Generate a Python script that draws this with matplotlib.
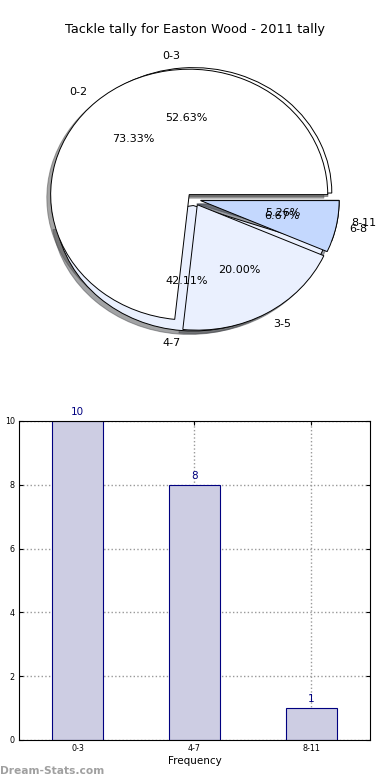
import matplotlib
matplotlib.use('Agg')
import matplotlib.pyplot as plt

# data
pie_a_labels = ['0-3', '4-7', '8-11']
pie_a_vals = [10, 8, 1]
pie_b_labels = ['0-2', '3-5', '6-8']
pie_b_vals = [11, 3, 1]

bar_labels = ['0-3', '4-7', '8-11']
bar_vals = [10, 8, 1]

wedge_colors = ['#ffffff', '#eaf0fe', '#c4d8fe']
bar_face = '#cdcde3'
navy = '#000080'

fig = plt.figure(figsize=(3.9, 7.8), dpi=100)

# ---- pie part ----
ax1 = fig.add_axes([0.053, 0.5435, 0.888, 0.402])
for vals, labs in [(pie_a_vals, pie_a_labels), (pie_b_vals, pie_b_labels)]:
    wedges, texts, autotexts = ax1.pie(
        vals, labels=labs, colors=wedge_colors, autopct='%.2f%%',
        explode=[0.05] * len(vals), shadow=True, startangle=0,
        wedgeprops=dict(edgecolor='black', linewidth=0.7),
        textprops=dict(fontsize=8))
ax1.set_aspect('auto')
ax1.set_xlim(-1.25, 1.25)
ax1.set_ylim(-1.25, 1.25)
ax1.axis('off')

fig.text(0.5, 1 - 30 / 780, 'Tackle tally for Easton Wood - 2011 tally',
         ha='center', va='center', fontsize=9.3)

# ---- bar part ----
ax2 = fig.add_axes([0.0487, 0.0513, 0.9, 0.409])
xs = range(len(bar_vals))
ax2.bar(xs, bar_vals, width=0.44, color=bar_face, edgecolor=navy,
        linewidth=0.8, zorder=2)
for x, v in zip(xs, bar_vals):
    ax2.text(x, v + 0.12, str(v), ha='center', va='bottom',
             color=navy, fontsize=7.5)
ax2.set_xlim(-0.5, 2.5)
ax2.set_ylim(0, 10)
ax2.set_xticks(list(xs))
ax2.set_xticklabels(bar_labels)
ax2.set_yticks([0, 2, 4, 6, 8, 10])
ax2.tick_params(labelsize=5.8, direction='in', top=True, right=True,
                length=3, pad=3)
ax2.grid(True, linestyle=':', color='#999999', linewidth=1.0, zorder=0)
ax2.set_axisbelow(True)
ax2.set_xlabel('Frequency', fontsize=7.5, labelpad=2)
ax2.set_ylabel('Total Matches', fontsize=7.5)
ax2.yaxis.set_label_coords(-0.046, 0.5)

fig.text(0.0, 1 - 771 / 780, 'Dream-Stats.com', ha='left', va='center',
         fontsize=7.7, color='#a0a0a0', fontweight='bold')

fig.savefig('out.png', dpi=100)
